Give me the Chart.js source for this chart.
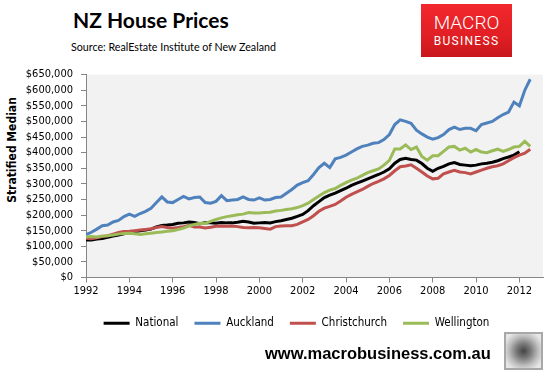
<!DOCTYPE html>
<html>
<head>
<meta charset="utf-8">
<script src="https://cdn.jsdelivr.net/npm/chart.js@4.4.0/dist/chart.umd.min.js"></script>
<style>
  body { margin: 0; width: 550px; height: 377px; background: #fff; position: relative; overflow: hidden;
         font-family: "DejaVu Sans Condensed", "DejaVu Sans", sans-serif; }
  #wrap { position: absolute; left: 0; top: 60px; width: 550px; height: 287px; }
  .title { position: absolute; left: 73px; top: 7px; font: bold 21px Lato, sans-serif; color: #000; }
  .source { position: absolute; left: 71px; top: 40px; font: 10.7px Lato, sans-serif; color: #000; }
  .ytitle { position: absolute; left: 12px; top: 150px; transform: translate(-50%, -50%) rotate(-90deg);
            white-space: nowrap; font-weight: bold; font-size: 12px; color: #000; }
  .logo { position: absolute; left: 421px; top: 4px; width: 91px; height: 53px; color: #fff; text-align: center;
          background: linear-gradient(#f2282d, #e11f24 60%, #c8171c); }
  .logo .m1 { font: 300 19px Roboto, sans-serif; margin-top: 9px; line-height: 20px; }
  .logo .m2 { font: 12px Roboto, sans-serif; letter-spacing: 1.3px; line-height: 14px; margin-top: 1px; }
  .web { position: absolute; left: 265px; top: 344px; font: bold 16.5px "Liberation Sans", sans-serif; color: #000; }
  .wolf { position: absolute; left: 504px; top: 332px; width: 35px; height: 34px; border: 2px solid #a8a8a8;
          background: radial-gradient(circle at 50% 50%, #444 0, #7a7a7a 30%, #bdbdbd 60%, #e6e6e6 85%); }
</style>
</head>
<body>
<div class="title">NZ House Prices</div>
<div class="source">Source: RealEstate Institute of New Zealand</div>
<div class="logo"><div class="m1">MACRO</div><div class="m2">BUSINESS</div></div>
<div class="ytitle">Stratified Median</div>
<div id="wrap"><canvas id="nzChart"></canvas></div>
<div class="web">www.macrobusiness.com.au</div>
<div class="wolf"></div>

<script>
"use strict";

// kvartalsvärden i tusentals dollar, från 1992 Q1 till mitten av 2012
const national = [
  120, 120, 123, 125, 129, 133, 136, 140, 145, 147, 150, 152, 155, 162, 167, 168,
  170, 174, 175, 178, 176, 172, 175, 175, 174, 176, 175, 175, 177, 180, 178, 174,
  175, 176, 175, 179, 182, 186, 190, 196, 202, 214, 230, 243, 256, 264, 270, 278,
  286, 295, 302, 309, 316, 323, 330, 338, 348, 366, 378, 382, 378, 376, 365, 350,
  340, 350, 356, 364, 368, 362, 360, 358, 360, 364, 366, 369, 374, 381, 386, 392,
  403, null, null
];
const auckland = [
  137, 145, 155, 166, 168, 178, 183, 195, 203, 196, 205, 212, 222, 240, 258, 242,
  240, 250, 260, 252, 256, 258, 240, 238, 244, 262, 246, 248, 250, 258, 250, 248,
  255, 248, 250, 256, 258, 270, 282, 296, 304, 310, 330, 352, 366, 352, 380, 385,
  392, 402, 412, 420, 424, 430, 432, 442, 458, 490, 505, 500, 494, 472, 460, 450,
  443, 448, 458, 474, 482, 474, 478, 478, 470, 490, 495, 500, 512, 522, 530, 562,
  550, 600, 635
];
const christchurch = [
  126, 124, 127, 131, 134, 139, 144, 147, 148, 150, 152, 154, 156, 160, 163, 160,
  158, 160, 163, 167, 162, 162, 159, 161, 164, 165, 164, 165, 163, 160, 159, 160,
  159, 157, 155, 163, 165, 166, 166, 170, 178, 186, 198, 212, 222, 228, 234, 245,
  257, 266, 274, 282, 292, 301, 308, 316, 327, 342, 355, 357, 361, 350, 338, 325,
  316, 318, 332, 338, 343, 338, 336, 332, 338, 344, 350, 355, 358, 364, 374, 384,
  392, 398, 411
];
const wellington = [
  130, 131, 130, 133, 134, 136, 139, 141, 142, 140, 138, 140, 142, 144, 146, 148,
  150, 154, 158, 165, 170, 174, 173, 180, 186, 191, 195, 198, 201, 203, 208, 207,
  207, 208, 209, 213, 215, 218, 220, 224, 230, 238, 250, 261, 272, 280, 285, 295,
  304, 312, 318, 327, 336, 342, 348, 360, 375, 412, 412, 425, 410, 418, 388, 376,
  390, 390, 404, 418, 420, 408, 414, 402, 410, 402, 400, 406, 411, 404, 410, 418,
  420, 436, 420
];

const seriesNames = ["National", "Auckland", "Christchurch", "Wellington"];
const seriesColors = ["#000000", "#4f81bd", "#c0504d", "#9bbb59"];
const yearTicks = [1992, 1994, 1996, 1998, 2000, 2002, 2004, 2006, 2008, 2010, 2012];

// x-position för varje kvartal
const quarters = auckland.map((_, i) => 1992 + i / 4);

const axisFont = { family: "'DejaVu Sans Condensed', 'DejaVu Sans', sans-serif", size: 11 };
const legendFont = { family: "'DejaVu Sans Condensed', 'DejaVu Sans', sans-serif", size: 11.5 };
const axisGrey = "#868686";

const plotBg = {
  id: "plotBg",
  beforeDraw(chart) {
    const { ctx, chartArea: a } = chart;
    ctx.save();
    ctx.fillStyle = "#f2f2f2";
    ctx.fillRect(a.left, a.top, a.right - a.left, a.bottom - a.top);
    ctx.restore();
  }
};

// flytta legenden lite åt höger, som i originalet
const legendShift = {
  id: "legendShift",
  afterLayout(chart) {
    if (chart.legend) {
      chart.legend.left = 50;
      chart.legend.right = 543;
    }
  }
};

function makeSet(idx, values) {
  return {
    label: seriesNames[idx],
    data: quarters.map((q, i) => ({ x: q, y: values[i] })),
    borderColor: seriesColors[idx],
    backgroundColor: seriesColors[idx],
    borderWidth: 3,
    pointRadius: 0,
    tension: 0,
    order: 3 - idx
  };
}

new Chart(document.getElementById("nzChart"), {
  type: "line",
  data: {
    datasets: [
      makeSet(0, national),
      makeSet(1, auckland),
      makeSet(2, christchurch),
      makeSet(3, wellington)
    ]
  },
  options: {
    responsive: true,
    maintainAspectRatio: false,
    animation: false,
    layout: { padding: { top: 4, right: 7, left: 0, bottom: 8 } },
    plugins: {
      tooltip: { enabled: false },
      legend: {
        position: "bottom",
        labels: {
          font: legendFont,
          color: "#000",
          boxWidth: 26,
          boxHeight: 3,
          padding: 16,
          sort: (a, b) => a.datasetIndex - b.datasetIndex,
          generateLabels(chart) {
            const items = Chart.defaults.plugins.legend.labels.generateLabels(chart);
            items.forEach(it => { it.lineWidth = 0; it.fillStyle = it.strokeStyle; });
            return items;
          }
        }
      }
    },
    scales: {
      x: {
        type: "linear",
        min: 1992,
        max: 2013.09,
        afterBuildTicks: s => { s.ticks = yearTicks.map(v => ({ value: v })); },
        afterFit: s => { s.height = 24; },
        ticks: { font: axisFont, color: "#000", padding: 2, maxRotation: 0, autoSkip: false, callback: v => String(v) },
        grid: { drawOnChartArea: false, tickLength: 5, color: axisGrey },
        border: { color: axisGrey }
      },
      y: {
        min: 0,
        max: 650,
        afterFit: s => { s.width = 86; },
        ticks: {
          stepSize: 50,
          autoSkip: false,
          font: axisFont,
          color: "#000",
          padding: 8,
          callback: v => "$" + (v * 1000).toLocaleString("en-US")
        },
        grid: { drawOnChartArea: false, tickLength: 5, color: axisGrey },
        border: { color: axisGrey }
      }
    }
  },
  plugins: [plotBg, legendShift]
});
</script>
</body>
</html>
